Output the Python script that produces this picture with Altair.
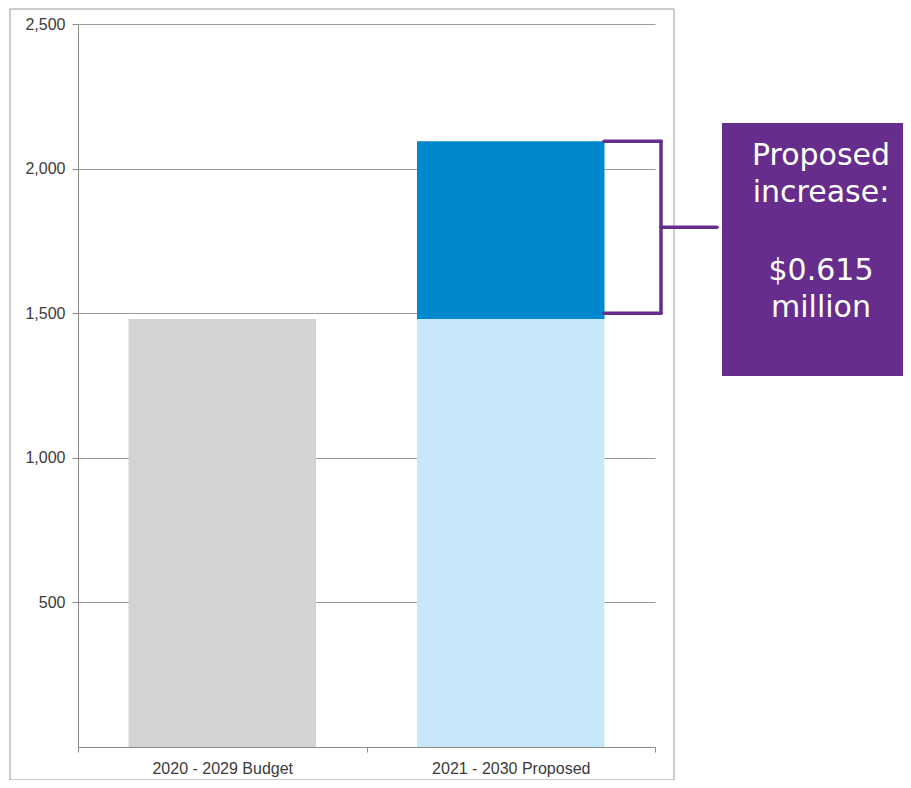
import altair as alt
import pandas as pd

# ---- data ----
categories = ["2020 - 2029 Budget", "2021 - 2030 Proposed", "2021 - 2030 Proposed"]
segments = ["Budget", "Base", "Increase"]
seg_order = [0, 0, 1]
values = [1480, 1480, 615]

y_ticks = [500, 1000, 1500, 2000, 2500]
seg_domain = ["Budget", "Base", "Increase"]
seg_colors = ["#D3D3D4", "#C6E7F8", "#0088CF"]

bracket_top = 2095
bracket_bottom = 1500
bracket_mid = 1797
annotation_top = "Proposed\nincrease:"
annotation_bottom = "$0.615\nmillion"

PURPLE = "#662D8C"
LABEL_FONT = "Liberation Sans, Arial, sans-serif"

bars_df = pd.DataFrame({"cat": categories, "seg": segments, "ord": seg_order, "val": values})
one = pd.DataFrame({"a": [0]})

yscale = alt.Scale(domain=[0, 2500], nice=False)
yaxis = alt.Axis(values=y_ticks, format=",.0f", labelFontSize=16, labelFont=LABEL_FONT,
                 labelColor="#3a3a3a", labelPadding=7, tickSize=6, tickColor="#8a8a8a",
                 domainColor="#8a8a8a", gridColor="#9a9a9a", gridWidth=1, title=None)

frame = alt.Chart(one).mark_rect(filled=False, stroke="#9a9a9a", strokeWidth=1).encode(
    x=alt.value(-68), x2=alt.value(596), y=alt.value(-15), y2=alt.value(756)
)

bars = alt.Chart(bars_df).mark_bar(width={"band": 0.65}).encode(
    x=alt.X("cat:N", title=None, sort=None,
            scale=alt.Scale(paddingInner=0, paddingOuter=0),
            axis=alt.Axis(labelAngle=0, tickBand="extent", labelFontSize=16, labelFont=LABEL_FONT,
                          labelColor="#3a3a3a", labelPadding=8, domainColor="#8a8a8a",
                          tickColor="#8a8a8a", tickSize=5, grid=False)),
    y=alt.Y("val:Q", stack="zero", scale=yscale, title=None, axis=yaxis),
    color=alt.Color("seg:N", scale=alt.Scale(domain=seg_domain, range=seg_colors), legend=None),
    order=alt.Order("ord:Q"),
)

br_df = pd.DataFrame({"val": [bracket_top, bracket_bottom]})
br_h = alt.Chart(br_df).mark_rule(color=PURPLE, strokeWidth=3.5, strokeCap="round").encode(
    y=alt.Y("val:Q", scale=yscale, title=None, axis=yaxis), x=alt.value(526), x2=alt.value(583)
)
br_v = alt.Chart(pd.DataFrame({"val": [bracket_top], "val2": [bracket_bottom]})).mark_rule(
    color=PURPLE, strokeWidth=3.5, strokeCap="round").encode(
    y=alt.Y("val:Q", scale=yscale, title=None, axis=yaxis), y2="val2:Q", x=alt.value(583)
)
br_m = alt.Chart(pd.DataFrame({"val": [bracket_mid]})).mark_rule(
    color=PURPLE, strokeWidth=3.5, strokeCap="round").encode(
    y=alt.Y("val:Q", scale=yscale, title=None, axis=yaxis), x=alt.value(583), x2=alt.value(639)
)

box = alt.Chart(one).mark_rect(fill=PURPLE).encode(
    x=alt.value(644), x2=alt.value(830), y=alt.value(99), y2=alt.value(352)
)

txt_style = dict(color="white", font="DejaVu Sans", fontSize=30, align="center",
                 baseline="alphabetic", lineBreak="\n", lineHeight=37)
txt1 = alt.Chart(one).mark_text(**txt_style).encode(
    x=alt.value(743), y=alt.value(141), text=alt.value(annotation_top))
txt2 = alt.Chart(one).mark_text(**txt_style).encode(
    x=alt.value(743), y=alt.value(256), text=alt.value(annotation_bottom))

chart = alt.layer(frame, bars, br_h, br_v, br_m, box, txt1, txt2).properties(
    width=577, height=723,
    autosize=alt.AutoSizeParams(type="none"),
    padding={"left": 70, "top": 16, "right": 248, "bottom": 33},
    background="white",
).configure_view(stroke=None)

chart.save("out.html", embed_options={"renderer": "svg", "actions": False})
